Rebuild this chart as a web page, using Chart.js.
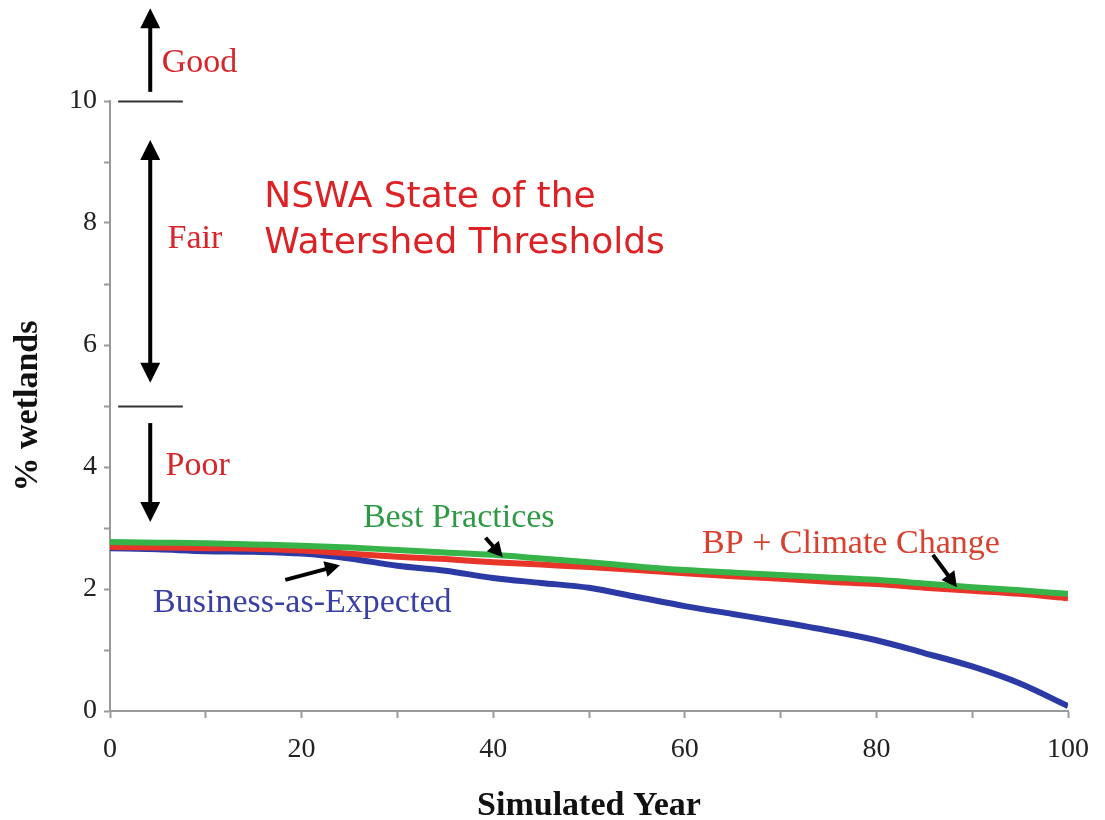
<!DOCTYPE html>
<html>
<head>
<meta charset="utf-8">
<script src="https://cdn.jsdelivr.net/npm/chart.js@4.4.1/dist/chart.umd.min.js"></script>
<style>
    html, body { margin: 0; padding: 0; background: #fff; }
    #wrap { width: 1105px; height: 820px; }
</style>
</head>
<body>
<div id="wrap"><canvas id="wetlandsChart" width="1105" height="820"></canvas></div>
<script>
// Data
const years = [0, 5, 10, 15, 20, 25, 30, 35, 40, 45, 50, 55, 60, 65, 70, 75, 80, 85, 90, 95, 100];
const bestPractices = [2.77, 2.76, 2.75, 2.73, 2.71, 2.68, 2.64, 2.60, 2.56, 2.50, 2.44, 2.37, 2.31, 2.27, 2.23, 2.19, 2.15, 2.09, 2.03, 1.98, 1.92];
const bpClimateChange = [2.69, 2.68, 2.67, 2.66, 2.63, 2.58, 2.53, 2.49, 2.44, 2.40, 2.36, 2.31, 2.26, 2.21, 2.17, 2.12, 2.08, 2.02, 1.97, 1.92, 1.85];
const businessAsExpected = [2.67, 2.65, 2.62, 2.61, 2.58, 2.50, 2.38, 2.30, 2.18, 2.10, 2.02, 1.87, 1.72, 1.59, 1.46, 1.32, 1.16, 0.95, 0.73, 0.45, 0.08];

const xTickLabels = [0, 20, 40, 60, 80, 100];
const yTickLabels = [0, 2, 4, 6, 8, 10];

// State of the Watershed thresholds (% wetlands)
const thresholds = [10, 5];

// Annotations, in data units (year, % wetlands)
const zoneLabels = [
    { text: 'Good', x: 5.4, y: 10.48 },
    { text: 'Fair', x: 6.0, y: 7.59 },
    { text: 'Poor', x: 5.8, y: 3.87 }
];
const zoneArrows = [
    { x: 4.2, from: 10.15, to: 11.52, both: false },
    { x: 4.2, from: 5.38, to: 9.36, both: true },
    { x: 4.2, from: 4.72, to: 3.10, both: false }
];
const seriesLabels = [
    { text: 'Best Practices', x: 26.4, y: 3.02, color: '#2f9a45' },
    { text: 'BP + Climate Change', x: 61.8, y: 2.59, color: '#d8402f' },
    { text: 'Business-as-Expected', x: 4.5, y: 1.62, color: '#3a3fa3' }
];
const pointerArrows = [
    { x1: 39.2, y1: 2.84, x2: 41.0, y2: 2.52 },
    { x1: 85.9, y1: 2.56, x2: 88.4, y2: 2.03 },
    { x1: 18.3, y1: 2.15, x2: 24.0, y2: 2.39 }
];

function toPoints(values) {
    return values.map((v, i) => ({ x: years[i], y: v }));
}

// Draw an arrow with a filled head at (x2, y2)
function drawArrow(ctx, x1, y1, x2, y2, headLen, headWidth, lineWidth, bothEnds) {
    const ang = Math.atan2(y2 - y1, x2 - x1);
    const cos = Math.cos(ang), sin = Math.sin(ang);
    const sx = bothEnds ? x1 + cos * headLen * 0.8 : x1;
    const sy = bothEnds ? y1 + sin * headLen * 0.8 : y1;
    ctx.save();
    ctx.strokeStyle = '#000';
    ctx.fillStyle = '#000';
    ctx.lineWidth = lineWidth;
    ctx.beginPath();
    ctx.moveTo(sx, sy);
    ctx.lineTo(x2 - cos * headLen * 0.8, y2 - sin * headLen * 0.8);
    ctx.stroke();
    const head = (tx, ty, c, s) => {
        ctx.beginPath();
        ctx.moveTo(tx, ty);
        ctx.lineTo(tx - c * headLen - s * headWidth / 2, ty - s * headLen + c * headWidth / 2);
        ctx.lineTo(tx - c * headLen + s * headWidth / 2, ty - s * headLen - c * headWidth / 2);
        ctx.closePath();
        ctx.fill();
    };
    head(x2, y2, cos, sin);
    if (bothEnds) head(x1, y1, -cos, -sin);
    ctx.restore();
}

// Plugin for threshold lines, arrows and text notes
const notesPlugin = {
    id: 'notes',
    afterDraw(chart) {
        const { ctx, scales: { x, y } } = chart;
        ctx.save();

        // Threshold lines
        ctx.strokeStyle = '#333';
        ctx.lineWidth = 2;
        thresholds.forEach(t => {
            const py = Math.round(y.getPixelForValue(t)) + 0.5;
            ctx.beginPath();
            ctx.moveTo(x.getPixelForValue(0.85), py);
            ctx.lineTo(x.getPixelForValue(7.6), py);
            ctx.stroke();
        });

        // Zone arrows
        zoneArrows.forEach(a => {
            const px = x.getPixelForValue(a.x);
            drawArrow(ctx, px, y.getPixelForValue(a.from), px, y.getPixelForValue(a.to), 20, 20, 4, a.both);
        });

        // Zone labels
        ctx.font = '34px "Liberation Serif", "Times New Roman", serif';
        ctx.fillStyle = '#d6262b';
        ctx.textBaseline = 'alphabetic';
        ctx.textAlign = 'left';
        zoneLabels.forEach(l => {
            ctx.fillText(l.text, x.getPixelForValue(l.x), y.getPixelForValue(l.y));
        });

        // Title note
        ctx.font = '36px "DejaVu Sans", Verdana, sans-serif';
        ctx.fillStyle = '#dd2226';
        ctx.fillText('NSWA State of the', x.getPixelForValue(16.1), y.getPixelForValue(8.26));
        ctx.fillText('Watershed Thresholds', x.getPixelForValue(16.1), y.getPixelForValue(7.51));

        // Series labels
        ctx.font = '34px "Liberation Serif", "Times New Roman", serif';
        seriesLabels.forEach(l => {
            ctx.fillStyle = l.color;
            ctx.fillText(l.text, x.getPixelForValue(l.x), y.getPixelForValue(l.y));
        });

        // Small pointer arrows
        pointerArrows.forEach(a => {
            drawArrow(ctx, x.getPixelForValue(a.x1), y.getPixelForValue(a.y1),
                x.getPixelForValue(a.x2), y.getPixelForValue(a.y2), 15, 16, 4, false);
        });

        // x axis title
        ctx.font = 'bold 34px "Liberation Serif", "Times New Roman", serif';
        ctx.fillStyle = '#111';
        ctx.textAlign = 'center';
        ctx.fillText('Simulated Year', (x.left + x.right) / 2, 815);

        ctx.restore();
    }
};

const axisColor = '#9a9a9a';
const tickFont = { family: '"Liberation Serif", "Times New Roman", serif', size: 28 };

const chart = new Chart(document.getElementById('wetlandsChart'), {
    type: 'line',
    data: {
        datasets: [
            { label: 'Best Practices', data: toPoints(bestPractices), borderColor: '#36b44a', borderWidth: 6, pointRadius: 0, cubicInterpolationMode: 'monotone' },
            { label: 'BP + Climate Change', data: toPoints(bpClimateChange), borderColor: '#e8352a', borderWidth: 6, pointRadius: 0, cubicInterpolationMode: 'monotone' },
            { label: 'Business-as-Expected', data: toPoints(businessAsExpected), borderColor: '#2c3aa6', borderWidth: 6, pointRadius: 0, cubicInterpolationMode: 'monotone' }
        ]
    },
    options: {
        responsive: false,
        animation: false,
        devicePixelRatio: 1,
        layout: { padding: { top: 101, right: 37, left: 0, bottom: 0 } },
        plugins: {
            legend: { display: false },
            tooltip: { enabled: false }
        },
        scales: {
            x: {
                type: 'linear',
                min: 0,
                max: 100,
                afterFit: s => { s.height = 109; },
                border: { color: axisColor, width: 2 },
                grid: { drawOnChartArea: false, color: axisColor, tickLength: 7, tickWidth: 2 },
                ticks: {
                    stepSize: 10,
                    autoSkip: false,
                    maxRotation: 0,
                    padding: 15,
                    color: '#222',
                    font: tickFont,
                    callback: v => xTickLabels.includes(v) ? String(v) : ''
                }
            },
            y: {
                min: 0,
                max: 10,
                afterFit: s => { s.width = 110; },
                border: { color: axisColor, width: 2 },
                grid: { drawOnChartArea: false, color: axisColor, tickLength: 6, tickWidth: 2 },
                ticks: {
                    stepSize: 1,
                    autoSkip: false,
                    padding: 7,
                    color: '#222',
                    font: tickFont,
                    callback: v => yTickLabels.includes(v) ? String(v) : ''
                },
                title: {
                    display: true,
                    text: '% wetlands',
                    color: '#111',
                    font: { family: '"Liberation Serif", "Times New Roman", serif', size: 34, weight: 'bold' },
                    padding: { top: 8, bottom: 0 }
                }
            }
        }
    },
    plugins: [notesPlugin]
});
</script>
</body>
</html>
